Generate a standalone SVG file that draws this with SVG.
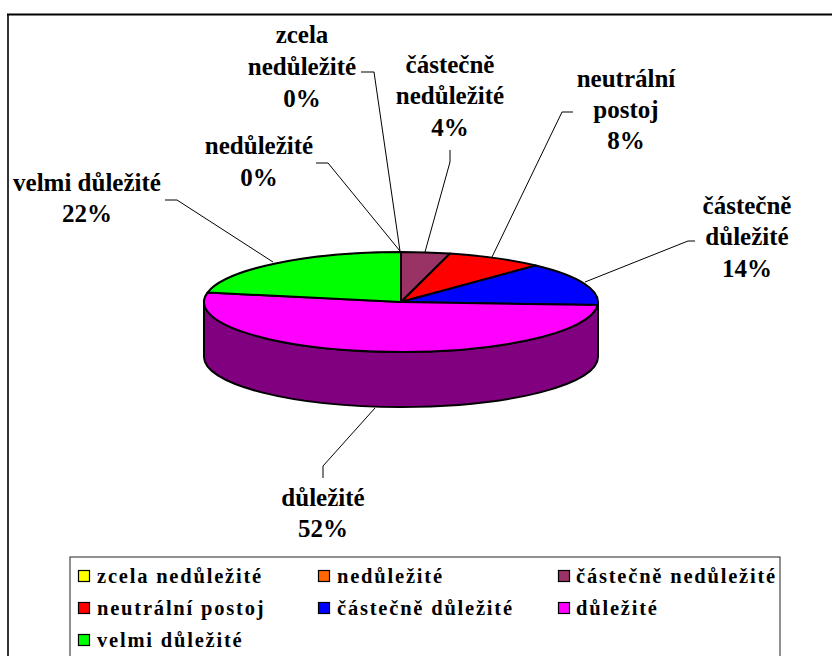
<svg xmlns="http://www.w3.org/2000/svg" width="832" height="656" viewBox="0 0 832 656">
  <style>
    .lbl { font-family: 'Liberation Serif', 'DejaVu Serif', 'Times New Roman', serif; font-weight: 700; font-size: 25px; fill: #000; text-anchor: middle; }
    .leg { font-family: 'Liberation Serif', 'DejaVu Serif', 'Times New Roman', serif; font-weight: 700; font-size: 20.5px; letter-spacing: 1.8px; fill: #000; }
    .slice { stroke: #000; stroke-width: 2; stroke-linejoin: round; }
    .lead { fill: none; stroke: #000; stroke-width: 1; }
    .sw { stroke: #000; stroke-width: 1.2; }
  </style>

  <rect x="0" y="0" width="832" height="656" fill="#fff"/>

  <!-- chart frame (open to the right and bottom) -->
  <g id="frame" fill="none" stroke="#000">
    <line x1="7" y1="14.5" x2="832" y2="14.5" stroke-width="2"/>
    <line x1="8" y1="14" x2="8" y2="656" stroke-width="1.6"/>
  </g>

  <!-- 3D pie: side wall first, then top slices -->
  <g id="pie">
    <path id="pie-side" class="slice" fill="#800080"
          d="M204,302 L204,357 A197,50 0 0 0 598,357 L598,302 A197,50 0 0 1 204,302 Z"/>
    <g id="slice-castecne-nedulezite">
      <path class="slice" fill="#993366" d="M401,302 L401,252 A197,50 0 0 1 450,253.6 Z"/>
    </g>
    <g id="slice-neutralni-postoj">
      <path class="slice" fill="#FF0000" d="M401,302 L450,253.6 A197,50 0 0 1 535.8,265.5 Z"/>
    </g>
    <g id="slice-castecne-dulezite">
      <path class="slice" fill="#0000FF" d="M401,302 L535.8,265.5 A197,50 0 0 1 597.6,305.1 Z"/>
    </g>
    <g id="slice-dulezite">
      <path class="slice" fill="#FF00FF" d="M401,302 L597.6,305.1 A197,50 0 1 1 207.5,292.6 Z"/>
    </g>
    <g id="slice-velmi-dulezite">
      <path class="slice" fill="#00FF00" d="M401,302 L207.5,292.6 A197,50 0 0 1 401,252 Z"/>
    </g>
  </g>

  <!-- leader lines from labels to slices -->
  <g id="connectors" class="lead">
    <path d="M361,72 H374 L400,251"/>
    <path d="M316,163 H328 L400,251"/>
    <path d="M450,150 V162 L425,252"/>
    <path d="M573,112 H562 L492,257"/>
    <path d="M695,241 H688 L585,282"/>
    <path d="M165,200 H177 L273,262"/>
    <path d="M375,408 L323,466 V478"/>
  </g>

  <!-- data labels -->
  <g id="label-zcela-nedulezite" class="lbl">
    <text x="302" y="43">zcela</text>
    <text x="302" y="75">nedůležité</text>
    <text x="302" y="107">0%</text>
  </g>
  <g id="label-nedulezite" class="lbl">
    <text x="259" y="154">nedůležité</text>
    <text x="259" y="186">0%</text>
  </g>
  <g id="label-castecne-nedulezite" class="lbl">
    <text x="450" y="73">částečně</text>
    <text x="450" y="104">nedůležité</text>
    <text x="450" y="136">4%</text>
  </g>
  <g id="label-neutralni-postoj" class="lbl">
    <text x="626" y="87">neutrální</text>
    <text x="626" y="118">postoj</text>
    <text x="626" y="149">8%</text>
  </g>
  <g id="label-castecne-dulezite" class="lbl">
    <text x="747" y="214">částečně</text>
    <text x="747" y="245">důležité</text>
    <text x="747" y="277">14%</text>
  </g>
  <g id="label-velmi-dulezite" class="lbl">
    <text x="87" y="191">velmi důležité</text>
    <text x="87" y="222">22%</text>
  </g>
  <g id="label-dulezite" class="lbl">
    <text x="323" y="506">důležité</text>
    <text x="323" y="537">52%</text>
  </g>

  <!-- legend -->
  <g id="legend">
    <rect x="70" y="557" width="710" height="110" fill="#fff" stroke="#222" stroke-width="1"/>
    <rect class="sw" x="78.5" y="570.5" width="11" height="11" fill="#FFFF00"/>
    <text class="leg" x="97" y="583">zcela nedůležité</text>
    <rect class="sw" x="318.5" y="570.5" width="11" height="11" fill="#FF6600"/>
    <text class="leg" x="337" y="583">nedůležité</text>
    <rect class="sw" x="558.5" y="570.5" width="11" height="11" fill="#993366"/>
    <text class="leg" x="576" y="583">částečně nedůležité</text>

    <rect class="sw" x="78.5" y="602.5" width="11" height="11" fill="#FF0000"/>
    <text class="leg" x="97" y="615">neutrální postoj</text>
    <rect class="sw" x="318.5" y="602.5" width="11" height="11" fill="#0000FF"/>
    <text class="leg" x="337" y="615">částečně důležité</text>
    <rect class="sw" x="558.5" y="602.5" width="11" height="11" fill="#FF00FF"/>
    <text class="leg" x="576" y="615">důležité</text>

    <rect class="sw" x="78.5" y="634.5" width="11" height="11" fill="#00FF00"/>
    <text class="leg" x="97" y="647">velmi důležité</text>
  </g>
</svg>
